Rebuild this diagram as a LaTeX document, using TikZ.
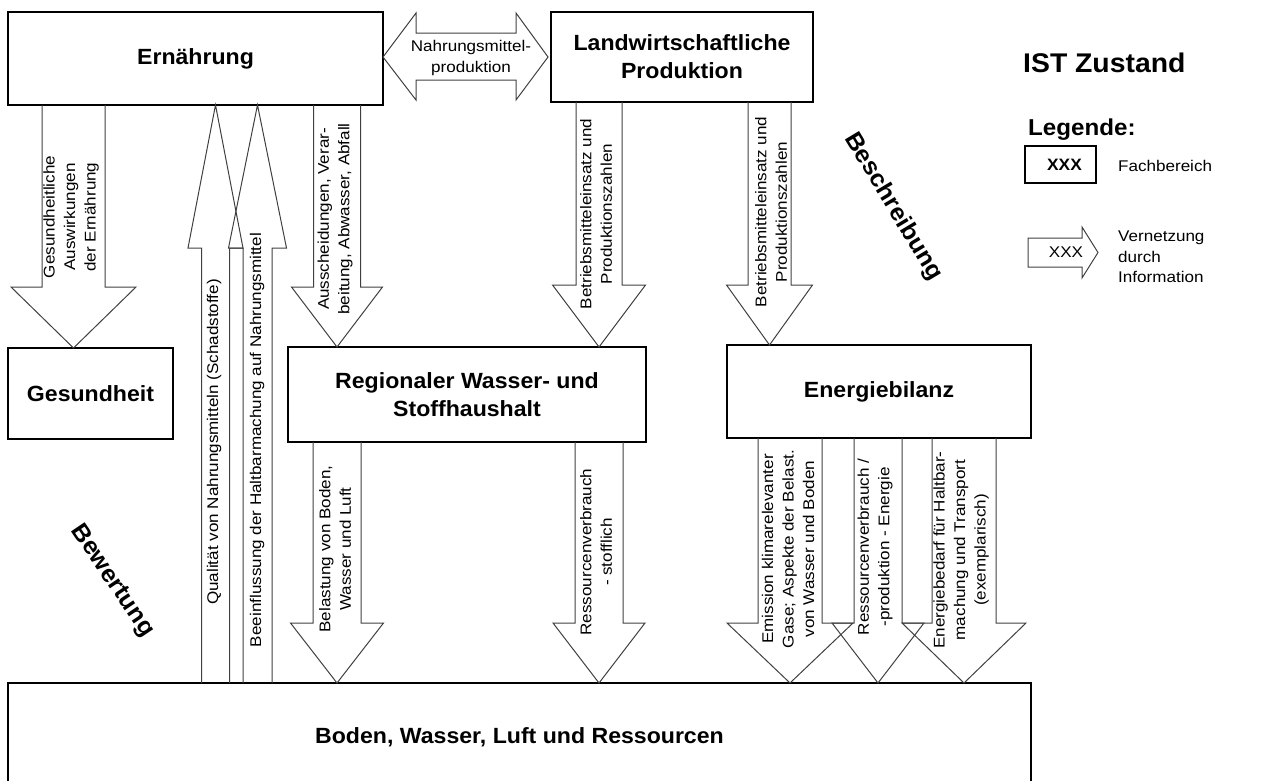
\documentclass[tikz,border=0pt]{standalone}
\usepackage{fontspec}
\newfontfamily\tfont{Liberation Sans}[FakeStretch=1.05]
\newfontfamily\lfont{Liberation Sans}[FakeStretch=1.1]
\usetikzlibrary{calc}
% down block arrow: #1 source anchor (y only), #2 tip, #3 shaft half width, #4 head half width, #5 head length
\newcommand\darr[5]{\draw[barrow] let \p1=(#1), \p2=(#2) in
  (\x2-#3pt,\y1) -- (\x2-#3pt,\y2+#5pt) -- (\x2-#4pt,\y2+#5pt) -- (\x2,\y2)
  -- (\x2+#4pt,\y2+#5pt) -- (\x2+#3pt,\y2+#5pt) -- (\x2+#3pt,\y1);}
% up block arrow
\newcommand\uarr[5]{\draw[barrow] let \p1=(#1), \p2=(#2) in
  (\x2-#3pt,\y1) -- (\x2-#3pt,\y2-#5pt) -- (\x2-#4pt,\y2-#5pt) -- (\x2,\y2)
  -- (\x2+#4pt,\y2-#5pt) -- (\x2+#3pt,\y2-#5pt) -- (\x2+#3pt,\y1);}
\begin{document}
\begin{tikzpicture}[x=1pt,y=-1pt,
  box/.style={draw, line width=2pt, fill=white, inner sep=0pt, outer sep=0pt, align=center,
    font=\tfont\bfseries\fontsize{22}{28}\selectfont},
  barrow/.style={draw=black!75, line width=1pt, line join=miter},
  lab/.style={inner sep=0pt, align=center, font=\lfont\fontsize{15.5}{20.5}\selectfont},
  big/.style={inner sep=0pt, font=\tfont\bfseries\fontsize{24}{28}\selectfont}]
\useasboundingbox (0,0) rectangle (1267,780);
\clip (0,0) rectangle (1267,780);

% boxes
\node[box, minimum width=375, minimum height=93] (ern) at (195.5,58.5) {Ernährung};
\node[box, minimum width=262, minimum height=90] (lw) at (682,57) {Landwirtschaftliche\\Produktion};
\node[box, minimum width=165, minimum height=91] (ges) at (90.5,393.5) {Gesundheit};
\node[box, minimum width=358, minimum height=95] (reg) at (467,394.5) {Regionaler Wasser- und\\Stoffhaushalt};
\node[box, minimum width=304, minimum height=93] (ene) at (879,391.5) {Energiebilanz};
\node[box, minimum width=1023, minimum height=108] (bod) at (519.5,737) {Boden, Wasser, Luft und Ressourcen};

% double arrow
\draw[barrow] let \p1=(ern.east), \p2=(lw.west) in
  (\x1,\y2) -- (\x1+33pt,\y2+44pt) -- (\x1+33pt,\y2+24pt) -- (\x2-35pt,\y2+24pt) -- (\x2-35pt,\y2+44pt)
  -- (\x2-3pt,\y2) -- (\x2-35pt,\y2-43pt) -- (\x2-35pt,\y2-23pt) -- (\x1+33pt,\y2-23pt)
  -- (\x1+33pt,\y2-43pt) -- cycle;
\node[lab] (nmp) at (471,58) {Nahrungsmittel-\\produktion};

% block arrows
\darr{ern.south}{$(ges.north west)+(65.5,0)$}{31.5}{62.5}{61}
\uarr{bod.north}{$(ern.south west)+(207.5,0)$}{14}{27.5}{143}
\uarr{bod.north}{$(ern.south west)+(249.5,0)$}{14.5}{29}{143}
\darr{ern.south}{$(reg.north west)+(49,0)$}{23.5}{45.5}{60}
\darr{lw.south}{$(reg.north west)+(311,0)$}{23}{46.5}{62}
\darr{lw.south}{$(ene.north west)+(42.5,0)$}{21.5}{43}{60}
\darr{reg.south}{$(bod.north west)+(329,0)$}{24}{46.5}{60}
\darr{reg.south}{$(bod.north west)+(591,0)$}{24}{46}{60}
\darr{ene.south}{$(bod.north west)+(782,0)$}{32}{63}{60}
\darr{ene.south}{$(bod.north west)+(870,0)$}{24}{46}{60}
\darr{ene.south}{$(bod.north west)+(956,0)$}{32}{62}{60}

% arrow labels
\node[lab, rotate=90] (l1) at (71,217) {Gesundheitliche\\Auswirkungen\\der Ernährung};
\node[lab, rotate=90] (l2) at (214,442) {Qualität von Nahrungsmitteln (Schadstoffe)};
\node[lab, rotate=90] (l3) at (257,440) {Beeinflussung der Haltbarmachung auf Nahrungsmittel};
\node[lab, rotate=90] (l4) at (335,219) {Ausscheidungen, Verar-\\beitung, Abwasser, Abfall};
\node[lab, rotate=90] (l5) at (596,214) {Betriebsmitteleinsatz und\\Produktionszahlen};
\node[lab, rotate=90] (l6) at (771,212) {Betriebsmitteleinsatz und\\Produktionszahlen};
\node[lab, rotate=90] (l7) at (335,549) {Belastung von Boden,\\Wasser und Luft};
\node[lab, rotate=90] (l8) at (596,552) {Ressourcenverbrauch\\- stofflich};
\node[lab, rotate=90] (l9) at (788,549) {Emission klimarelevanter\\Gase; Aspekte der Belast.\\von Wasser und Boden};
\node[lab, rotate=90] (l10) at (875,547) {Ressourcenverbrauch /\\-produktion - Energie};
\node[lab, rotate=90] (l11) at (961,550) {Energiebedarf für Haltbar-\\machung und Transport\\(exemplarisch)};

% diagonal titles
\node[big, rotate=-59] (besch) at (893,207) {Beschreibung};
\node[big, rotate=-56] (bew) at (112,581) {Bewertung};

% legend
\node[inner sep=0pt, anchor=base west, font=\tfont\bfseries\fontsize{27}{30}\selectfont] (ist) at (1023,72) {IST Zustand};
\node[inner sep=0pt, anchor=base west, font=\tfont\bfseries\fontsize{23}{26}\selectfont] (leg) at (1028,135) {Legende:};
\node[draw, line width=1.2pt, inner sep=0pt, outer sep=0pt, minimum width=71, minimum height=37,
  font=\tfont\bfseries\fontsize{16.5}{20}\selectfont] (lbox) at (1060.5,164.5) {\hspace{8pt}XXX};
\node[lab, anchor=base west] (fach) at (1118,171) {Fachbereich};
\coordinate (la) at (1028,238);
\draw[barrow] (la) -- ++(54,0) -- ++(0,-11) -- ++(16,25.5) -- ++(-16,25.5) -- ++(0,-11) -- ++(-54,0) -- cycle;
\node[lab] (lxxx) at (1066,252) {XXX};
\node[lab, align=left, anchor=north west] (vern) at (1118,231) {Vernetzung\\durch\\Information};
\end{tikzpicture}
\end{document}
